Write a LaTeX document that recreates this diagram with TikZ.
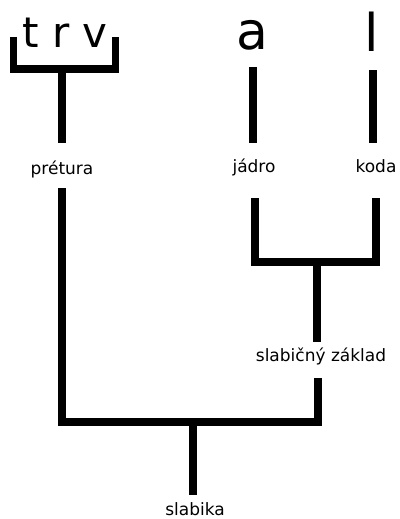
\documentclass[tikz,border=0pt]{standalone}
\usepackage{fontspec}
\setmainfont{DejaVu Sans}
\begin{document}
\begin{tikzpicture}[x=1pt,y=-1pt,
  branch/.style={line width=7.5pt, line join=miter},
  seg/.style={font=\fontsize{52}{60}\selectfont, anchor=base, inner sep=0pt},
  lbl/.style={font=\fontsize{17}{20}\selectfont, anchor=base, inner sep=0pt}]
\useasboundingbox (0,0) rectangle (399,519);
\clip (0,0) rectangle (399,519);

% segments
\node[seg, font=\fontsize{42}{48}\selectfont] (trv) at (65,48) {t r v};
\node[seg] (a) at (252,50) {a};
\node[seg] (l) at (372,52) {l};

% constituent labels
\node[lbl] (pre)  at (62,174)  {prétura};
\node[lbl] (jad)  at (254,172) {jádro};
\node[lbl] (koda) at (376,172) {koda};
\node[lbl] (sz)   at (321,361) {slabičný základ};
\node[lbl] (sl)   at (195,515) {slabika};

% branch points
\coordinate (trvL) at (13.5,37);
\coordinate (trvR) at (115.5,37);
\coordinate (trvJ) at (62,69);
\coordinate (preTop) at (62,143);
\coordinate (aBot) at (253,67);
\coordinate (jadTop) at (253,143);
\coordinate (lBot) at (373,70);
\coordinate (kodaTop) at (373,143);
\coordinate (jadBot) at (255,198);
\coordinate (kodaBot) at (376,198);
\coordinate (rhJ) at (317,262);
\coordinate (szTop) at (317,342);
\coordinate (szBot) at (318,378);
\coordinate (slJ) at (193,422);
\coordinate (preBot) at (62,188);
\coordinate (slTop) at (193,495);

% tree
\draw[branch] (trvL) |- (trvJ) -| (trvR);
\draw[branch] (trvJ) -- (preTop);
\draw[branch] (aBot) -- (jadTop);
\draw[branch] (lBot) -- (kodaTop);
\draw[branch] (jadBot) |- (rhJ) -| (kodaBot);
\draw[branch] (rhJ) -- (szTop);
\draw[branch] (szBot) |- (slJ) -| (preBot);
\draw[branch] (slJ) -- (slTop);
\end{tikzpicture}
\end{document}
